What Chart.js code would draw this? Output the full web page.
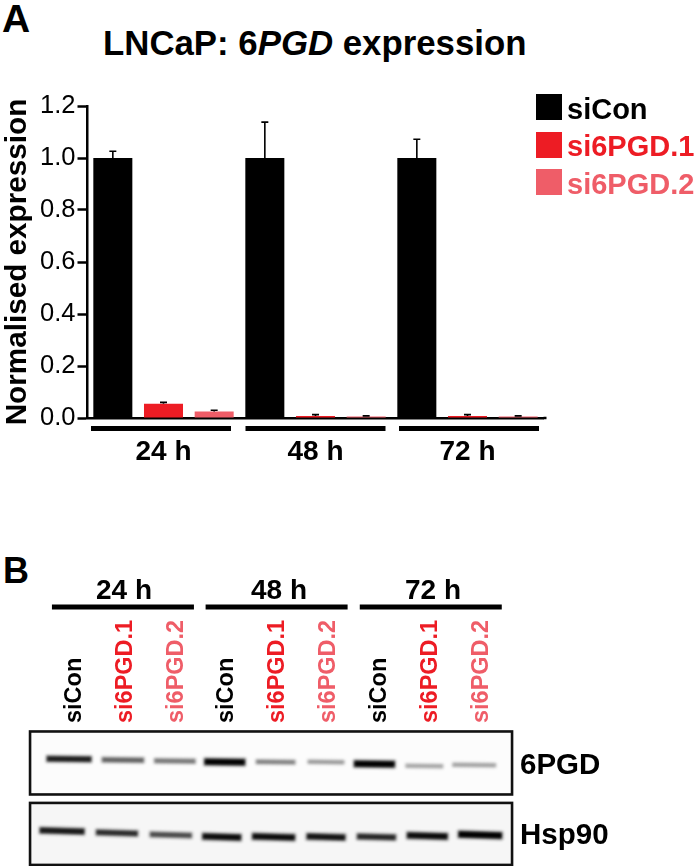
<!DOCTYPE html>
<html><head><meta charset="utf-8">
<script src="https://cdn.jsdelivr.net/npm/chart.js@4/dist/chart.umd.min.js"></script>
<style>
html,body{margin:0;padding:0;background:#fff;width:699px;height:866px;overflow:hidden;font-family:"Liberation Sans",Arial,sans-serif}
.t{position:absolute;font-weight:bold;white-space:nowrap;line-height:1;color:#000}
.c{transform:translateX(-50%)}
canvas{position:absolute;left:0;display:block}
.sw{position:absolute;width:26px;height:26px;left:536px}
</style></head><body>
<div class="t" style="left:2px;top:-1px;font-size:39px">A</div>
<div class="t" style="left:3px;top:552.5px;font-size:36px">B</div>
<div class="t" style="left:103px;top:26px;font-size:34.8px">LNCaP: 6<i>PGD</i> expression</div>
<canvas id="a" width="699" height="500" style="top:0"></canvas>
<canvas id="b" width="699" height="334" style="top:560px"></canvas>
<div id="legend"></div>
<div id="glabels"></div>
<script>
const timepoints = ['24 h', '48 h', '72 h'];
const seriesNames = ['siCon', 'si6PGD.1', 'si6PGD.2'];
const seriesColors = ['#000000', '#ED1C24', '#EF5D68'];
const siConValues = [1.0, 1.0, 1.0];
const si1Values = [0.055, 0.008, 0.008];
const si2Values = [0.025, 0.006, 0.006];
const siConErr = [0.026, 0.138, 0.072];
const si1Err = [0.005, 0.005, 0.005];
const si2Err = [0.005, 0.002, 0.002];
const yTicks = [0, 0.2, 0.4, 0.6, 0.8, 1.0, 1.2];

const lanes = ['siCon','si6PGD.1','si6PGD.2','siCon ','si6PGD.1 ','si6PGD.2 ','siCon  ','si6PGD.1  ','si6PGD.2  '];
const proteins = ['6PGD', 'Hsp90'];
const band6PGD = [0.82, 0.52, 0.42, 0.97, 0.38, 0.26, 1.0, 0.20, 0.22];
const bandHsp90 = [0.85, 0.76, 0.62, 0.92, 0.92, 0.88, 0.78, 0.92, 1.0];

const F = '"Liberation Sans", Arial, sans-serif';
Chart.defaults.font.family = F;
Chart.defaults.color = '#000';

const errs = [siConErr, si1Err, si2Err];
const panelA = {
  id: 'panelA',
  afterDatasetsDraw(c) {
    const g = c.ctx, y = c.scales.y, x = c.scales.x;
    g.save();
    g.strokeStyle = '#000'; g.lineWidth = 1.6;
    c.data.datasets.forEach((d, k) => {
      c.getDatasetMeta(k).data.forEach((el, i) => {
        const top = y.getPixelForValue(d.data[i] + errs[k][i]);
        const base = y.getPixelForValue(d.data[i]);
        g.beginPath();
        g.moveTo(el.x, base); g.lineTo(el.x, top);
        g.moveTo(el.x - 3.5, top); g.lineTo(el.x + 3.5, top);
        g.stroke();
      });
    });
    const y0 = y.getPixelForValue(0);
    g.lineWidth = 2.5;
    g.beginPath(); g.moveTo(x.right, y0); g.lineTo(x.right + 3, y0); g.stroke();
    const shift = [-2.5, 0, 1.5];
    g.fillStyle = '#000';
    timepoints.forEach((t, i) => {
      g.fillRect(x.getPixelForTick(i) + shift[i] - 70, y0 + 8, 140, 5);
    });
    g.restore();
  }
};

new Chart(document.getElementById('a'), {
  type: 'bar',
  data: {
    labels: timepoints,
    datasets: [siConValues, si1Values, si2Values].map((v, i) => ({
      label: seriesNames[i], data: v, backgroundColor: seriesColors[i],
      categoryPercentage: 1, barPercentage: 0.77
    }))
  },
  options: {
    responsive: false, animation: false,
    layout: { padding: { left: 0, top: 106, right: 155.5, bottom: 22 } },
    plugins: { legend: { display: false }, title: { display: false }, tooltip: { enabled: false } },
    scales: {
      x: {
        grid: { display: false },
        border: { color: '#000', width: 2.5 },
        ticks: { font: { size: 28, weight: 'bold' }, padding: 9, color: '#000', maxRotation: 0 },
        afterFit(s) { s.height = 60; }
      },
      y: {
        min: 0, max: 1.2,
        afterBuildTicks(s) { s.ticks = yTicks.map(v => ({ value: v })); },
        grid: { drawOnChartArea: false, tickLength: 10, tickColor: '#000', tickWidth: 2.5 },
        border: { color: '#000', width: 2.5 },
        ticks: { font: { size: 25.5 }, padding: 2, color: '#000', callback: v => v.toFixed(1) },
        title: { display: true, text: 'Normalised expression', font: { size: 29.7, weight: 'bold' }, padding: 0, color: '#000' },
        afterFit(s) { s.width = 87.5; }
      }
    }
  },
  plugins: [panelA]
});

const lg = document.getElementById('legend');
seriesNames.forEach((n, i) => {
  const top = 94 + i * 37.5;
  lg.insertAdjacentHTML('beforeend',
    `<div class="sw" style="top:${top}px;background:${seriesColors[i]}"></div>` +
    `<div class="t" style="left:567px;top:${top + 0.5}px;font-size:29px;color:${seriesColors[i]}">${n}</div>`);
});

const gl = document.getElementById('glabels');
[124, 279, 433].forEach((x, i) => {
  gl.insertAdjacentHTML('beforeend',
    `<div class="t c" style="left:${x}px;top:576px;font-size:28px">${timepoints[i]}</div>`);
});

const bandDx = [[-5,-2,-1,-2,-2,-2.5,-5,-6,-7], [-12,-8,-5,-5,-4,-2.5,-3,-3,-1]];
const bandDy = [[-7,-6,-5,-4,-4,-4,-2,0,-1], [-5,-3,-1,1,1,1,1,0,-1]];
const bandW = [[46,43,42,42,40,37,42,38,44], [46,43,43,40,44,40,40,42,45]];
const bandTilt = [0.012, 0.03];
function sprite(v, dx, dy, w, tilt) {
  const s = document.createElement('canvas');
  s.width = 140; s.height = 50;
  const g = s.getContext('2d');
  const cx = 70 + dx, cy = 25 + dy, h = 2.5 + v * 4.5;
  g.translate(cx, cy); g.rotate(tilt);
  g.filter = 'blur(1.7px)';
  g.fillStyle = `rgba(60,60,60,${0.3 + 0.6 * v})`;
  g.fillRect(-w / 2, -h / 2 - 0.5, w, h + 1);
  g.filter = 'blur(1px)';
  g.fillStyle = `rgba(0,0,0,${Math.min(1, v * v * 1.05)})`;
  g.fillRect(-w / 2 + 1.5, -h / 3, w - 3, h * 0.66);
  return s;
}
const panelB = {
  id: 'panelB',
  beforeDatasetsDraw(c) {
    const g = c.ctx, x = c.scales.x, y = c.scales.y;
    g.save();
    const fx = x.getPixelForValue(0) - 44, fw = 482;
    const rows = [[y.getPixelForValue(0) - 34.5, 63, '#fcfcfc'], [y.getPixelForValue(1) - 33, 62, '#f6f6f6']];
    rows.forEach(([t, h, bg]) => {
      g.fillStyle = bg;
      g.fillRect(fx, t, fw, h);
      g.strokeStyle = '#111'; g.lineWidth = 2.6;
      g.strokeRect(fx, t, fw, h);
    });
    const shift = [-2, -1, 0.5];
    g.fillStyle = '#000';
    [1, 4, 7].forEach((l, i) => {
      g.fillRect(x.getPixelForValue(l) + shift[i] - 71, 44.5, 142, 5);
    });
    g.restore();
  }
};
const laneColor = i => seriesColors[i % 3];

new Chart(document.getElementById('b'), {
  type: 'line',
  data: {
    labels: lanes,
    datasets: [band6PGD, bandHsp90].map((v, r) => ({
      label: proteins[r],
      data: v.map((val, i) => ({ x: lanes[i], y: proteins[r] })),
      showLine: false, clip: false,
      pointStyle: ctx => sprite(v[ctx.dataIndex], bandDx[r][ctx.dataIndex], bandDy[r][ctx.dataIndex], bandW[r][ctx.dataIndex], bandTilt[r]),
      pointRadius: 10
    }))
  },
  options: {
    responsive: false, animation: false,
    layout: { padding: { left: 48.6, top: 0, right: 0, bottom: 0 } },
    plugins: { legend: { display: false }, tooltip: { enabled: false } },
    scales: {
      x: {
        type: 'category', position: 'top', offset: true,
        grid: { display: false }, border: { display: false },
        ticks: {
          autoSkip: false, minRotation: 90, maxRotation: 90, padding: 0, labelOffset: 28.5,
          font: { size: 23.5, weight: 'bold' },
          color: ctx => laneColor(ctx.index),
          callback(v, i) { return lanes[i].trim(); }
        },
        afterFit(s) { s.height = 171; }
      },
      y: {
        type: 'category', labels: proteins, position: 'right', offset: true,
        grid: { display: false }, border: { display: false },
        ticks: { font: { size: 29.5, weight: 'bold' }, padding: 5.4, color: '#000' },
        afterFit(s) { s.width = 192.4; }
      }
    }
  },
  plugins: [panelB]
});
</script>
</body></html>
